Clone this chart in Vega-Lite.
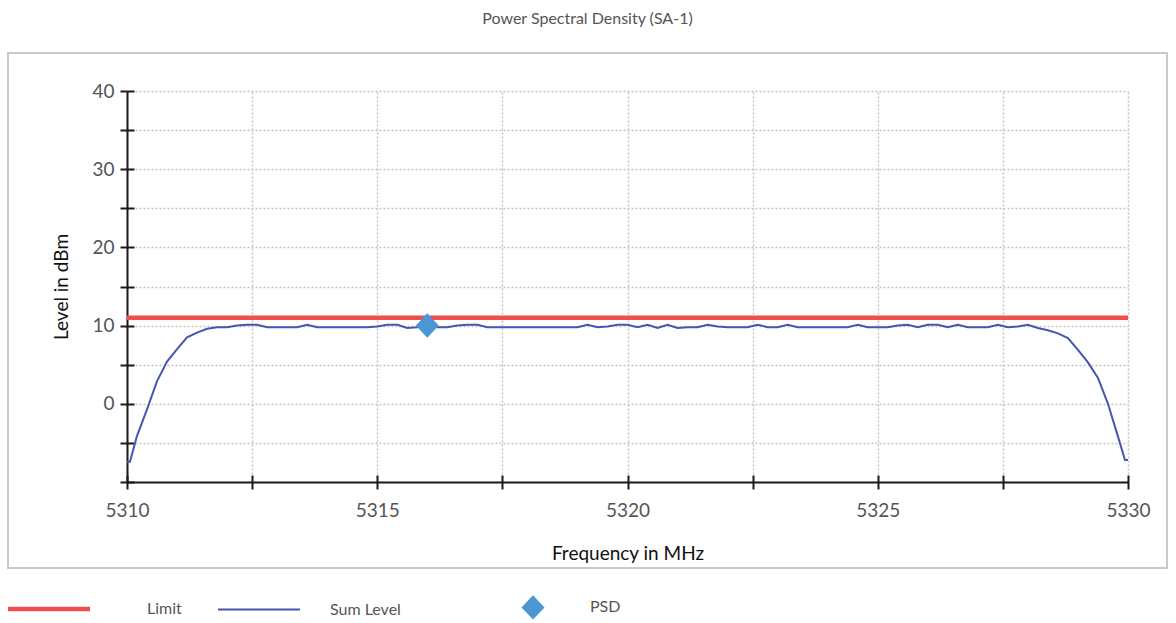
{
  "$schema": "https://vega.github.io/schema/vega-lite/v6.json",
  "width": 1159,
  "height": 515,
  "autosize": "none",
  "padding": {"left": 8, "top": 53, "right": 9, "bottom": 55},
  "title": {"text": "Power Spectral Density (SA-1)", "fontSize": 16, "font": "Lato", "fontWeight": "normal", "color": "#555555", "anchor": "middle", "offset": 26},
  "config": {
    "view": {"stroke": "#c9c9c9", "strokeWidth": 2},
    "axis": {
      "labelFont": "Lato", "labelColor": "#555555", "labelFontSize": 19,
      "titleFont": "Lato", "titleColor": "#111111", "titleFontSize": 19, "titleFontWeight": "normal",
      "domainColor": "#1a1a1a", "domainWidth": 2, "tickColor": "#1a1a1a", "tickWidth": 2,
      "gridColor": "#c4c4c4", "gridDash": [2, 2], "gridWidth": 1.5,
      "labelOverlap": false, "labelFlush": false
    }
  },
  "data": {"values": [
    {"series": "Limit", "freq": 5310, "level": 11},
    {"series": "Limit", "freq": 5330, "level": 11},
    {"series": "PSD", "freq": 5316, "level": 10},
    {"series": "Sum Level", "freq": 5310.0, "level": -7.4},
    {"series": "Sum Level", "freq": 5310.06, "level": -7.4},
    {"series": "Sum Level", "freq": 5310.2, "level": -4.1},
    {"series": "Sum Level", "freq": 5310.4, "level": -0.7},
    {"series": "Sum Level", "freq": 5310.6, "level": 2.9},
    {"series": "Sum Level", "freq": 5310.8, "level": 5.4},
    {"series": "Sum Level", "freq": 5311.0, "level": 7.0},
    {"series": "Sum Level", "freq": 5311.2, "level": 8.5},
    {"series": "Sum Level", "freq": 5311.4, "level": 9.1},
    {"series": "Sum Level", "freq": 5311.6, "level": 9.6},
    {"series": "Sum Level", "freq": 5311.8, "level": 9.8},
    {"series": "Sum Level", "freq": 5312.0, "level": 9.8},
    {"series": "Sum Level", "freq": 5312.2, "level": 10.0},
    {"series": "Sum Level", "freq": 5312.4, "level": 10.1},
    {"series": "Sum Level", "freq": 5312.6, "level": 10.1},
    {"series": "Sum Level", "freq": 5312.8, "level": 9.8},
    {"series": "Sum Level", "freq": 5313.0, "level": 9.8},
    {"series": "Sum Level", "freq": 5313.2, "level": 9.8},
    {"series": "Sum Level", "freq": 5313.4, "level": 9.8},
    {"series": "Sum Level", "freq": 5313.6, "level": 10.1},
    {"series": "Sum Level", "freq": 5313.8, "level": 9.8},
    {"series": "Sum Level", "freq": 5314.0, "level": 9.8},
    {"series": "Sum Level", "freq": 5314.2, "level": 9.8},
    {"series": "Sum Level", "freq": 5314.4, "level": 9.8},
    {"series": "Sum Level", "freq": 5314.6, "level": 9.8},
    {"series": "Sum Level", "freq": 5314.8, "level": 9.8},
    {"series": "Sum Level", "freq": 5315.0, "level": 9.9},
    {"series": "Sum Level", "freq": 5315.2, "level": 10.1},
    {"series": "Sum Level", "freq": 5315.4, "level": 10.1},
    {"series": "Sum Level", "freq": 5315.6, "level": 9.7},
    {"series": "Sum Level", "freq": 5315.8, "level": 9.8},
    {"series": "Sum Level", "freq": 5316.0, "level": 10.0},
    {"series": "Sum Level", "freq": 5316.2, "level": 9.8},
    {"series": "Sum Level", "freq": 5316.4, "level": 9.8},
    {"series": "Sum Level", "freq": 5316.6, "level": 10.0},
    {"series": "Sum Level", "freq": 5316.8, "level": 10.1},
    {"series": "Sum Level", "freq": 5317.0, "level": 10.1},
    {"series": "Sum Level", "freq": 5317.2, "level": 9.8},
    {"series": "Sum Level", "freq": 5317.4, "level": 9.8},
    {"series": "Sum Level", "freq": 5317.6, "level": 9.8},
    {"series": "Sum Level", "freq": 5317.8, "level": 9.8},
    {"series": "Sum Level", "freq": 5318.0, "level": 9.8},
    {"series": "Sum Level", "freq": 5318.2, "level": 9.8},
    {"series": "Sum Level", "freq": 5318.4, "level": 9.8},
    {"series": "Sum Level", "freq": 5318.6, "level": 9.8},
    {"series": "Sum Level", "freq": 5318.8, "level": 9.8},
    {"series": "Sum Level", "freq": 5319.0, "level": 9.8},
    {"series": "Sum Level", "freq": 5319.2, "level": 10.1},
    {"series": "Sum Level", "freq": 5319.4, "level": 9.8},
    {"series": "Sum Level", "freq": 5319.6, "level": 9.9},
    {"series": "Sum Level", "freq": 5319.8, "level": 10.1},
    {"series": "Sum Level", "freq": 5320.0, "level": 10.1},
    {"series": "Sum Level", "freq": 5320.2, "level": 9.8},
    {"series": "Sum Level", "freq": 5320.4, "level": 10.1},
    {"series": "Sum Level", "freq": 5320.6, "level": 9.7},
    {"series": "Sum Level", "freq": 5320.8, "level": 10.1},
    {"series": "Sum Level", "freq": 5321.0, "level": 9.7},
    {"series": "Sum Level", "freq": 5321.2, "level": 9.8},
    {"series": "Sum Level", "freq": 5321.4, "level": 9.8},
    {"series": "Sum Level", "freq": 5321.6, "level": 10.1},
    {"series": "Sum Level", "freq": 5321.8, "level": 9.9},
    {"series": "Sum Level", "freq": 5322.0, "level": 9.8},
    {"series": "Sum Level", "freq": 5322.2, "level": 9.8},
    {"series": "Sum Level", "freq": 5322.4, "level": 9.8},
    {"series": "Sum Level", "freq": 5322.6, "level": 10.1},
    {"series": "Sum Level", "freq": 5322.8, "level": 9.8},
    {"series": "Sum Level", "freq": 5323.0, "level": 9.8},
    {"series": "Sum Level", "freq": 5323.2, "level": 10.1},
    {"series": "Sum Level", "freq": 5323.4, "level": 9.8},
    {"series": "Sum Level", "freq": 5323.6, "level": 9.8},
    {"series": "Sum Level", "freq": 5323.8, "level": 9.8},
    {"series": "Sum Level", "freq": 5324.0, "level": 9.8},
    {"series": "Sum Level", "freq": 5324.2, "level": 9.8},
    {"series": "Sum Level", "freq": 5324.4, "level": 9.8},
    {"series": "Sum Level", "freq": 5324.6, "level": 10.1},
    {"series": "Sum Level", "freq": 5324.8, "level": 9.8},
    {"series": "Sum Level", "freq": 5325.0, "level": 9.8},
    {"series": "Sum Level", "freq": 5325.2, "level": 9.8},
    {"series": "Sum Level", "freq": 5325.4, "level": 10.0},
    {"series": "Sum Level", "freq": 5325.6, "level": 10.1},
    {"series": "Sum Level", "freq": 5325.8, "level": 9.8},
    {"series": "Sum Level", "freq": 5326.0, "level": 10.1},
    {"series": "Sum Level", "freq": 5326.2, "level": 10.1},
    {"series": "Sum Level", "freq": 5326.4, "level": 9.8},
    {"series": "Sum Level", "freq": 5326.6, "level": 10.1},
    {"series": "Sum Level", "freq": 5326.8, "level": 9.8},
    {"series": "Sum Level", "freq": 5327.0, "level": 9.8},
    {"series": "Sum Level", "freq": 5327.2, "level": 9.8},
    {"series": "Sum Level", "freq": 5327.4, "level": 10.1},
    {"series": "Sum Level", "freq": 5327.6, "level": 9.8},
    {"series": "Sum Level", "freq": 5327.8, "level": 9.9},
    {"series": "Sum Level", "freq": 5328.0, "level": 10.1},
    {"series": "Sum Level", "freq": 5328.2, "level": 9.7},
    {"series": "Sum Level", "freq": 5328.4, "level": 9.4},
    {"series": "Sum Level", "freq": 5328.6, "level": 9.0},
    {"series": "Sum Level", "freq": 5328.8, "level": 8.4},
    {"series": "Sum Level", "freq": 5329.0, "level": 6.9},
    {"series": "Sum Level", "freq": 5329.2, "level": 5.3},
    {"series": "Sum Level", "freq": 5329.4, "level": 3.3},
    {"series": "Sum Level", "freq": 5329.6, "level": 0.0},
    {"series": "Sum Level", "freq": 5329.8, "level": -4.2},
    {"series": "Sum Level", "freq": 5329.94, "level": -7.2},
    {"series": "Sum Level", "freq": 5330.0, "level": -7.2}
  ]},
  "resolve": {"axis": {"x": "independent", "y": "independent"}},
  "layer": [
    {
      "transform": [{"filter": "datum.series === 'Limit'"}],
      "mark": {"type": "line", "strokeWidth": 4.5, "clip": true},
      "encoding": {
        "x": {"field": "freq", "type": "quantitative",
          "scale": {"domain": [5310, 5330], "range": [119, 1120], "nice": false, "zero": false},
          "axis": {"orient": "bottom", "offset": -86, "values": [5310, 5312.5, 5315, 5317.5, 5320, 5322.5, 5325, 5327.5, 5330], "format": "d",
            "labelExpr": "datum.value % 5 == 0 ? datum.label : ''", "tickSize": 7, "labelPadding": 12, "grid": false,
            "title": "Frequency in MHz", "titlePadding": 24}},
        "y": {"field": "level", "type": "quantitative",
          "scale": {"domain": [-10, 40], "range": [429, 38], "nice": false, "zero": false},
          "axis": {"orient": "left", "offset": -119, "values": [-10, -5, 0, 5, 10, 15, 20, 25, 30, 35, 40],
            "labelExpr": "datum.value % 10 == 0 && datum.value > -10 ? datum.label : ''", "tickSize": 7, "labelPadding": 6,
            "grid": true, "title": "Level in dBm", "titlePadding": 20}},
        "color": {"field": "series", "type": "nominal",
          "scale": {"domain": ["Limit", "Sum Level", "PSD"], "range": ["#f04d4d", "#4656b0", "#4a97d4"]},
          "legend": {"orient": "none", "legendX": 0, "legendY": 542, "direction": "horizontal", "columns": 3, "gridAlign": "all",
            "title": null, "padding": 0, "columnPadding": 13, "symbolSize": 100, "symbolType": "stroke",
            "labelFont": "Lato", "labelFontSize": 16, "labelColor": "#555555",
            "encode": {
              "symbols": {"update": {
                "x": {"signal": "datum.value === 'PSD' ? 105 : 41"},
                "y": {"value": 12},
                "shape": {"signal": "datum.value === 'PSD' ? 'M-0.94,0L0,-1L0.94,0L0,1Z' : 'stroke'"},
                "size": {"signal": "datum.value === 'PSD' ? 600 : 6724"},
                "strokeWidth": {"signal": "datum.value === 'Limit' ? 4.5 : datum.value === 'Sum Level' ? 2 : 0"},
                "stroke": {"scale": "color", "field": "value"},
                "fill": {"scale": "color", "field": "value"},
                "fillOpacity": {"value": 1},
                "opacity": {"value": 1}
              }},
              "labels": {"update": {
                "x": {"signal": "datum.value === 'Limit' ? 139 : datum.value === 'Sum Level' ? 112 : 162"},
                "y": {"value": 12},
                "baseline": {"value": "middle"},
                "align": {"value": "left"}
              }}
            }}}
      }
    },
    {
      "transform": [{"filter": "datum.series === 'Sum Level'"}],
      "mark": {"type": "line", "strokeWidth": 2, "clip": true},
      "encoding": {
        "x": {"field": "freq", "type": "quantitative",
          "scale": {"domain": [5310, 5330], "range": [119, 1120], "nice": false, "zero": false},
          "axis": {"orient": "top", "values": [5310, 5312.5, 5315, 5317.5, 5320, 5322.5, 5325, 5327.5, 5330],
            "grid": true, "domain": false, "ticks": false, "labels": false, "title": null}},
        "y": {"field": "level", "type": "quantitative",
          "scale": {"domain": [-10, 40], "range": [429, 38], "nice": false, "zero": false},
          "axis": null},
        "color": {"field": "series", "type": "nominal"}
      }
    },
    {
      "transform": [{"filter": "datum.series === 'PSD'"}],
      "mark": {"type": "point", "shape": "M-0.94,0L0,-1L0.94,0L0,1Z", "size": 600, "filled": true, "opacity": 1},
      "encoding": {
        "x": {"field": "freq", "type": "quantitative",
          "scale": {"domain": [5310, 5330], "range": [119, 1120], "nice": false, "zero": false},
          "axis": {"orient": "bottom", "offset": -86, "values": [5310, 5312.5, 5315, 5317.5, 5320, 5322.5, 5325, 5327.5, 5330],
            "tickSize": -7, "labels": false, "domain": false, "grid": false, "title": null}},
        "y": {"field": "level", "type": "quantitative",
          "scale": {"domain": [-10, 40], "range": [429, 38], "nice": false, "zero": false},
          "axis": {"orient": "left", "offset": -119, "values": [-10, -5, 0, 5, 10, 15, 20, 25, 30, 35, 40],
            "tickSize": -7, "labels": false, "domain": false, "grid": false, "title": null}},
        "color": {"field": "series", "type": "nominal"}
      }
    }
  ]
}
